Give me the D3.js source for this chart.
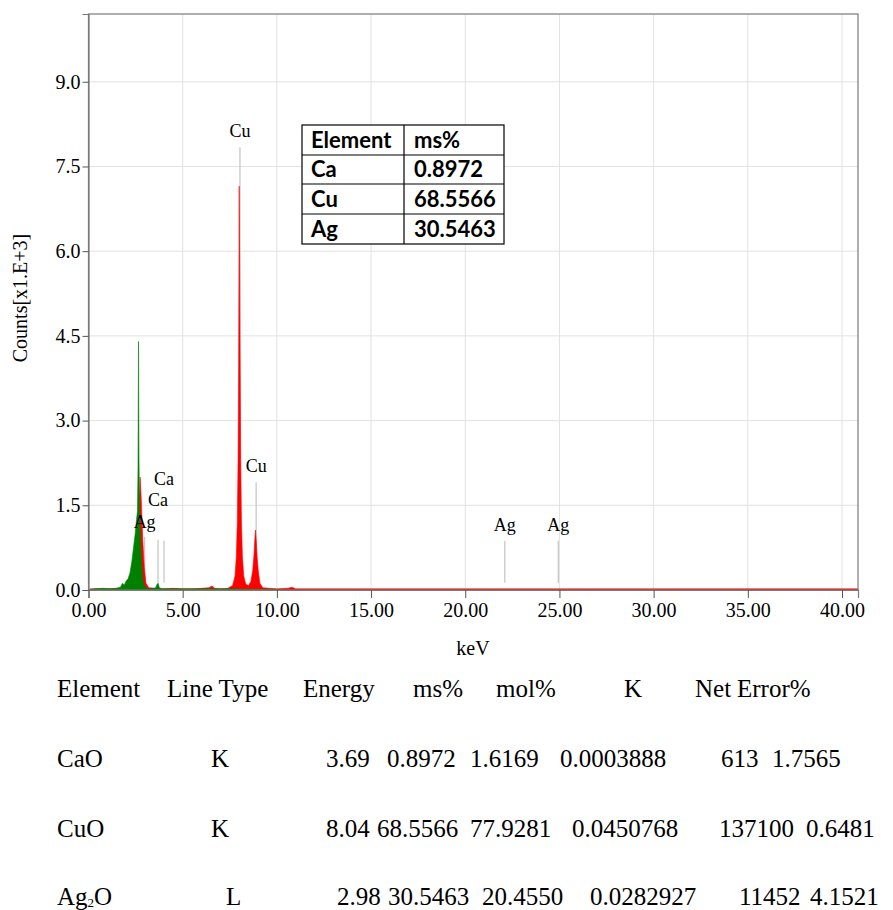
<!DOCTYPE html>
<html><head><meta charset="utf-8">
<script src="https://cdn.jsdelivr.net/npm/d3@7"></script>
<style>
body{margin:0;background:#fff}svg{display:block}
.serif{font-family:"Liberation Serif","DejaVu Serif","Times New Roman",Times,serif}
</style>
</head><body>
<svg id="c" width="893" height="910"></svg>
<script>
// ---- data ----
const xTicks = [0, 5, 10, 15, 20, 25, 30, 35, 40];
const yTicks = [0, 1.5, 3.0, 4.5, 6.0, 7.5, 9.0];
// red spectrum [keV, counts x1000]
const redSpectrum = [
  [0,0],[0.1,0.02],[0.5,0.02],[1.0,0.02],[1.5,0.03],[1.8,0.04],[2.0,0.06],[2.2,0.12],[2.35,0.2],
  [2.5,0.4],[2.6,0.8],[2.68,1.4],[2.74,2.0],[2.8,1.6],[2.88,0.9],[2.96,0.4],[3.05,0.12],[3.2,0.04],
  [3.6,0.03],[3.9,0.02],[4.5,0.03],[5.0,0.02],[5.5,0.02],[6.0,0.03],[6.4,0.04],[6.55,0.07],[6.7,0.03],
  [7.0,0.02],[7.4,0.03],[7.65,0.08],[7.78,0.25],[7.85,0.6],[7.9,1.2],[7.94,2.3],[7.97,4.0],[7.99,6.0],[8.0,7.15],
  [8.02,6.0],[8.05,4.0],[8.08,2.3],[8.12,1.2],[8.17,0.6],[8.24,0.25],[8.35,0.1],[8.5,0.08],[8.62,0.15],
  [8.72,0.35],[8.78,0.6],[8.83,0.9],[8.86,1.06],[8.9,0.9],[8.95,0.6],[9.01,0.35],[9.1,0.12],[9.25,0.04],
  [9.6,0.03],[10.0,0.02],[10.6,0.03],[10.8,0.05],[11.0,0.02],[12,0.02],[15,0.02],[20,0.02],[25,0.02],
  [30,0.02],[35,0.02],[40,0.02],[40.85,0.02]
];
// green spectrum [keV, counts x1000]
const greenSpectrum = [
  [0,0],[0.3,0.02],[0.8,0.03],[1.2,0.02],[1.5,0.03],[1.7,0.05],[1.8,0.12],[1.9,0.09],[2.0,0.16],[2.1,0.2],
  [2.2,0.3],[2.3,0.5],[2.4,0.78],[2.48,1.0],[2.55,1.25],[2.6,1.4],[2.63,2.2],[2.655,4.4],[2.68,2.4],
  [2.71,1.3],[2.76,0.9],[2.82,0.45],[2.9,0.15],[3.0,0.05],[3.2,0.02],[3.55,0.03],[3.64,0.1],[3.7,0.12],
  [3.76,0.04],[3.9,0.02],[4.5,0.02],[5.5,0.02],[6.5,0.02],[7.5,0.02],[9,0.01],[10,0.01],[10.2,0]
];
// element marker lines: label, keV, line top, label centre (counts x1000)
const markerLabels = ["Ag", "Ca", "Ca", "Cu", "Cu", "Ag", "Ag"];
const markerEnergy = [2.98, 3.69, 4.01, 8.04, 8.90, 22.10, 24.94];
const markerTop    = [0.94, 0.89, 0.87, 7.84, 1.91, 0.87, 0.87];
const markerText   = [1.21, 1.60, 1.97, 8.14, 2.20, 1.15, 1.15];
// inset table
const insetHeader = ["Element", "ms%"];
const insetElements = ["Ca", "Cu", "Ag"];
const insetMs = ["0.8972", "68.5566", "30.5463"];
// bottom table
const tableHeader = ["Element", "Line Type", "Energy", "ms%", "mol%", "K", "Net", "Error%"];
const tableRows = [
  ["CaO", "K", "3.69", "0.8972", "1.6169", "0.0003888", "613", "1.7565"],
  ["CuO", "K", "8.04", "68.5566", "77.9281", "0.0450768", "137100", "0.6481"],
  ["Ag|2|O", "L", "2.98", "30.5463", "20.4550", "0.0282927", "11452", "4.1521"]
];

// ---- layout ----
const svg = d3.select("#c");
const L = 88.5, R = 858, T = 14, B = 590;
const x = d3.scaleLinear([0, 40.85], [L, R]);
const y = d3.scaleLinear([0, 10.2], [B, T]);

// grid
svg.append("g").selectAll("line").data(xTicks.slice(1)).join("line")
  .attr("x1", d => x(d)).attr("x2", d => x(d)).attr("y1", T).attr("y2", B)
  .attr("stroke", "#e2e2e2").attr("stroke-width", 1);
svg.append("g").selectAll("line").data(yTicks.slice(1)).join("line")
  .attr("x1", L).attr("x2", R).attr("y1", d => y(d)).attr("y2", d => y(d))
  .attr("stroke", "#e2e2e2").attr("stroke-width", 1);

// marker lines
const mIdx = d3.range(markerLabels.length);
svg.append("g").selectAll("line").data(mIdx).join("line")
  .attr("x1", i => x(markerEnergy[i])).attr("x2", i => x(markerEnergy[i]))
  .attr("y1", i => y(markerTop[i])).attr("y2", y(0.13))
  .attr("stroke", "#c8c8c8").attr("stroke-width", 1.3);

// spectra
const area = d3.area().x(d => x(d[0])).y0(y(0)).y1(d => y(d[1]));
svg.append("path").datum(redSpectrum).attr("d", area).attr("fill", "#ff0000")
  .attr("stroke", "#ff0000").attr("stroke-width", 0.6);
svg.append("path").datum(greenSpectrum).attr("d", area).attr("fill", "#008000")
  .attr("stroke", "#008000").attr("stroke-width", 0.6);

// marker labels
svg.append("g").attr("class", "serif").selectAll("text").data(mIdx).join("text")
  .attr("x", i => x(markerEnergy[i])).attr("y", i => y(markerText[i]))
  .attr("dy", "0.35em").attr("text-anchor", "middle")
  .style("font-size", "18px").attr("fill", "#000")
  .text(i => markerLabels[i]);

// frame
svg.append("rect").attr("x", L).attr("y", T).attr("width", R - L).attr("height", B - T)
  .attr("fill", "none").attr("stroke", "#7a7a7a").attr("stroke-width", 1.2);

// axes
const yAxis = svg.append("g").attr("transform", `translate(${L},0)`)
  .call(d3.axisLeft(y).tickValues(yTicks).tickFormat(d3.format(".1f")).tickSize(6).tickPadding(2));
const xAxis = svg.append("g").attr("transform", `translate(0,${B})`)
  .call(d3.axisBottom(x).tickValues(xTicks).tickFormat(d3.format(".2f")).tickSize(8).tickPadding(5));
[yAxis, xAxis].forEach(g => {
  g.attr("font-family", null).attr("font-size", null);
  g.select(".domain").attr("stroke", "#7a7a7a").attr("stroke-width", 1.2);
  g.selectAll(".tick line").attr("stroke", "#555");
  g.selectAll(".tick text").attr("class", "serif").style("font-size", "20px").attr("fill", "#000");
});

// axis titles
svg.append("text").attr("class", "serif").attr("x", 473).attr("y", 655).attr("text-anchor", "middle")
  .style("font-size", "20px").text("keV");
svg.append("text").attr("class", "serif").attr("transform", "translate(27,298) rotate(-90)")
  .attr("text-anchor", "middle").style("font-size", "20px").text("Counts[x1.E+3]");

// inset table
const tx0 = 302, tx1 = 404, tx2 = 504;
const rowY = [125, 155, 184, 214, 244];
const ins = svg.append("g");
ins.append("rect").attr("x", tx0).attr("y", rowY[0]).attr("width", tx2 - tx0).attr("height", rowY[4] - rowY[0])
  .attr("fill", "#fff").attr("stroke", "#000").attr("stroke-width", 1.2);
ins.append("line").attr("x1", tx1).attr("x2", tx1).attr("y1", rowY[0]).attr("y2", rowY[4])
  .attr("stroke", "#000").attr("stroke-width", 1.2);
ins.selectAll("line.r").data(rowY.slice(1, 4)).join("line").attr("class", "r")
  .attr("x1", tx0).attr("x2", tx2).attr("y1", d => d).attr("y2", d => d)
  .attr("stroke", "#000").attr("stroke-width", 1.2);
const insetCol1 = [insetHeader[0]].concat(insetElements);
const insetCol2 = [insetHeader[1]].concat(insetMs);
[insetCol1, insetCol2].forEach((col, ci) => {
  ins.selectAll("text.c" + ci).data(col).join("text").attr("class", "c" + ci)
    .attr("x", ci === 0 ? tx0 + 9 : tx1 + 10)
    .attr("y", (d, i) => (rowY[i] + rowY[i + 1]) / 2).attr("dy", "0.36em")
    .style("font-family", "Lato, 'Open Sans', sans-serif").style("font-weight", "bold")
    .style("font-size", "22px").text(d => d);
});

// bottom table
const colX = [57, 167, 303, 413, 496, 624, 695, 737];
const rowX = [
  [57, 211, 326, 387, 470, 560, 721, 772],
  [57, 211, 326, 377, 470, 572, 719, 806],
  [57, 226, 337, 388, 482, 590, 739, 810]
];
const baseY = [697, 767, 837, 905];
const tb = svg.append("g").attr("class", "serif").style("font-size", "25px").attr("fill", "#000");
tb.selectAll("text.h").data(tableHeader).join("text").attr("class", "h")
  .attr("x", (d, i) => colX[i]).attr("y", baseY[0]).text(d => d);
tableRows.forEach((row, r) => {
  row.forEach((cell, c) => {
    const t = tb.append("text").attr("x", rowX[r][c]).attr("y", baseY[r + 1]);
    if (cell.includes("|")) {
      const p = cell.split("|");
      t.append("tspan").text(p[0]);
      t.append("tspan").style("font-size", "13px").attr("dy", 2).text(p[1]);
      t.append("tspan").attr("dy", -2).text(p[2]);
    } else t.text(cell);
  });
});
</script>
</body></html>
